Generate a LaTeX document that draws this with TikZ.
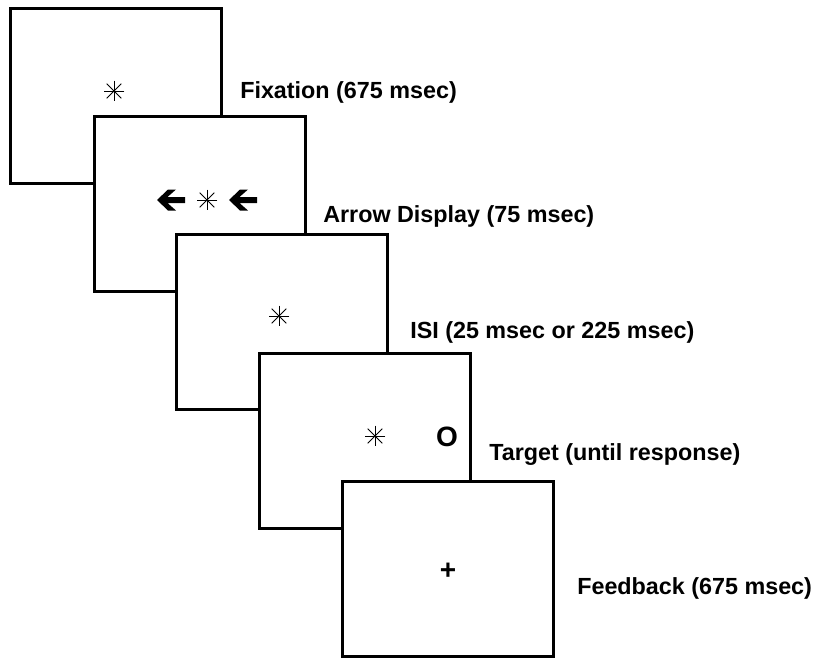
\documentclass[tikz,border=0pt]{standalone}
\usepackage{fontspec}
\setmainfont{Liberation Sans}
\usetikzlibrary{calc}
\tikzset{
  screen/.style={draw, fill=white, line width=2.25pt, minimum width=158.25pt,
    minimum height=131.25pt, inner sep=0pt, outer sep=0pt},
  captiontext/.style={anchor=base west, inner sep=0pt,
    font=\fontsize{17.5pt}{21pt}\selectfont\bfseries},
  bigmark/.style={inner sep=0pt, font=\fontsize{21pt}{25pt}\selectfont\bfseries},
  asterisk/.style={minimum size=17pt, inner sep=0pt, path picture={
    \foreach \a in {0,45,90,135}{
      \draw[line width=0.6pt] ($(path picture bounding box.center)+(\a:7.8pt)$)
        -- ($(path picture bounding box.center)+(\a+180:7.8pt)$);}
  }},
  leftarrowpic/.pic={
    \fill (0,0) -- (11,-10.5) -- (19,-10.5) -- (10.5,-3) -- (28,-3) -- (28,3)
      -- (10.5,3) -- (19,10.5) -- (11,10.5) -- cycle;
  },
}
\begin{document}
\begin{tikzpicture}[x=0.75pt, y=-0.75pt]
\useasboundingbox (0,0) rectangle (816,658);
% screens
\node[screen] (b1) at (116,96.3) {};
\node[asterisk] (s1) at (114,91) {};
\node[screen] (b2) at (199.7,204) {};
\pic at (157,200) {leftarrowpic};
\node[asterisk] (s2) at (207,200) {};
\pic at (229,200) {leftarrowpic};
\node[screen] (b3) at (282.2,321.8) {};
\node[asterisk] (s3) at (279,316) {};
\node[screen] (b4) at (365.3,440.5) {};
\node[asterisk] (s4) at (375,436) {};
\node[bigmark] (o4) at (447,437) {O};
\node[screen] (b5) at (448,568.8) {};
\node[bigmark] (p5) at (448,571) {+};
% captions
\node[captiontext] (t1) at (240,98) {Fixation (675 msec)};
\node[captiontext] (t2) at (323,222) {Arrow Display (75 msec)};
\node[captiontext] (t3) at (410,338) {ISI (25 msec or 225 msec)};
\node[captiontext] (t4) at (489,460) {Target (until response)};
\node[captiontext] (t5) at (577,594) {Feedback (675 msec)};
\end{tikzpicture}
\end{document}
